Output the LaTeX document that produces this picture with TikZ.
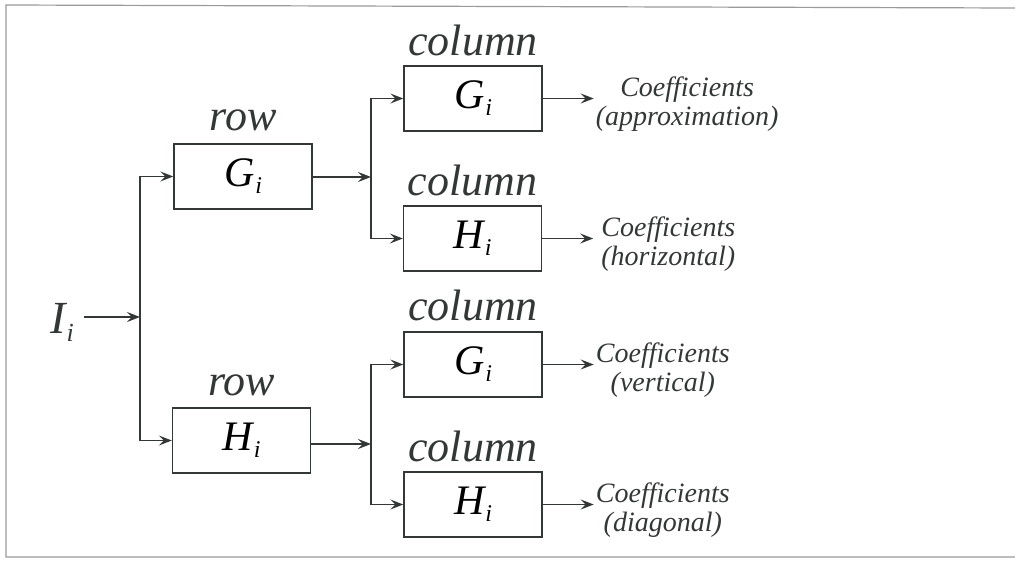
\documentclass[tikz,border=0pt]{standalone}
\usepackage{fontspec}
\setmainfont{Liberation Serif}
\usetikzlibrary{arrows.meta}
\definecolor{ink}{HTML}{333837}
\definecolor{framegray}{HTML}{9A9A9A}
\newcommand{\sym}[2]{{\fontsize{42}{42}\selectfont\itshape #1}\kern1pt\raisebox{-7pt}{\fontsize{24}{24}\selectfont\itshape #2}}
\begin{document}
\begin{tikzpicture}[x=1pt,y=-1pt,
  box/.style={draw=ink,line width=1.4pt,minimum width=138pt,minimum height=65pt,inner sep=0pt},
  arr/.style={draw=ink,line width=1.3pt,-{Stealth[length=13pt,width=10pt,inset=5pt]}},
  lbl/.style={font=\fontsize{44}{44}\selectfont\itshape,text=ink,anchor=base,inner sep=0pt},
  coef/.style={font=\fontsize{28}{29}\selectfont\itshape,text=ink,align=center,anchor=west,inner sep=2pt,yshift=-6pt}]
\useasboundingbox (0,0) rectangle (1015,560);
\draw[framegray,line width=1.2pt] (1015,8) -- (6,5) -- (6,557) -- (1015,557);

% row boxes
\node[box] (rowG) at (243,176.5) {\sym{G}{i}};
\node[box] (rowH) at (241.5,440.5) {\sym{H}{i}};
\node[lbl] (rowGl) at ([yshift=13pt]rowG.north) {row};
\node[lbl] (rowHl) at ([yshift=12pt]rowH.north) {row};

% column boxes
\node[box] (colG1) at (473,98.5) {\sym{G}{i}};
\node[box] (colH1) at (472.5,238.5) {\sym{H}{i}};
\node[box] (colG2) at (473,364.5) {\sym{G}{i}};
\node[box] (colH2) at (473,504.5) {\sym{H}{i}};
\node[lbl] (colG1l) at ([yshift=10pt]colG1.north) {column};
\node[lbl] (colH1l) at ([yshift=10pt]colH1.north) {column};
\node[lbl] (colG2l) at ([yshift=11pt]colG2.north) {column};
\node[lbl] (colH2l) at ([yshift=10pt]colH2.north) {column};

% input
\node[font=\fontsize{46}{46}\selectfont\itshape,text=ink,inner sep=0pt] (Ii) at (62,322) {I\kern1pt\raisebox{-8pt}{\fontsize{26}{26}\selectfont i}};
\coordinate (jI) at (140,317);
\draw[arr] (Ii.east |- jI) ++(10,0) -- (jI);
\draw[arr] (jI) |- (rowG.west);
\draw[arr] (jI) |- (rowH.west);

% junctions after row filters
\coordinate (jA) at (371,177);
\coordinate (jB) at (371,444);
\draw[arr] (rowG.east |- jA) -- (jA);
\draw[arr] (rowH.east |- jB) -- (jB);
\draw[arr] (jA) |- (colG1.west);
\draw[arr] (jA) |- (colH1.west);
\draw[arr] (jB) |- (colG2.west);
\draw[arr] (jB) |- (colH2.west);

% outputs
\coordinate (o1) at ([xshift=51pt]colG1.east);
\coordinate (o2) at ([xshift=51pt]colH1.east);
\coordinate (o3) at ([xshift=51pt]colG2.east);
\coordinate (o4) at ([xshift=51pt]colH2.east);
\draw[arr] (colG1.east) -- (o1);
\draw[arr] (colH1.east) -- (o2);
\draw[arr] (colG2.east) -- (o3);
\draw[arr] (colH2.east) -- (o4);
\node[coef] (c1) at (o1) {Coefficients\\(approximation)};
\node[coef,xshift=6pt] (c2) at (o2) {Coefficients\\(horizontal)};
\node[coef] (c3) at (o3) {Coefficients\\(vertical)};
\node[coef] (c4) at (o4) {Coefficients\\(diagonal)};
\end{tikzpicture}
\end{document}
